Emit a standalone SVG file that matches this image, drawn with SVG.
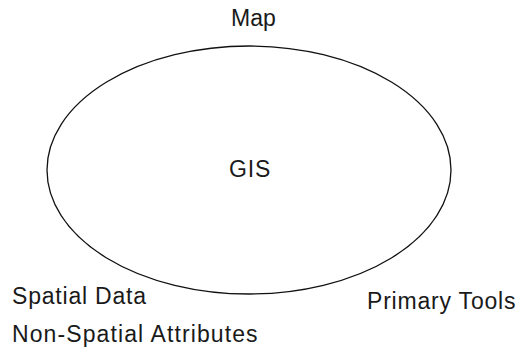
<svg xmlns="http://www.w3.org/2000/svg" width="524" height="351" viewBox="0 0 524 351">
  <style>
    .lbl { font-family: "Liberation Sans", Arial, sans-serif; font-size: 23px; fill: #1a1a1a; letter-spacing: 0.8px; }
    .outline { fill: none; stroke: #111; stroke-width: 1.3; }
  </style>
  <rect width="524" height="351" fill="#fff"/>
  <g id="connectors"></g>
  <g id="gis">
    <ellipse class="outline" cx="249" cy="170" rx="202" ry="124"/>
    <text class="lbl" x="229" y="177">GIS</text>
  </g>
  <g id="map">
    <text class="lbl" x="231" y="26" style="letter-spacing:0">Map</text>
  </g>
  <g id="spatial-data">
    <text class="lbl" x="12" y="303.5">Spatial Data</text>
  </g>
  <g id="non-spatial-attributes">
    <text class="lbl" x="12" y="342" style="letter-spacing:1.1px">Non-Spatial Attributes</text>
  </g>
  <g id="primary-tools">
    <text class="lbl" x="367" y="308.5">Primary Tools</text>
  </g>
</svg>
